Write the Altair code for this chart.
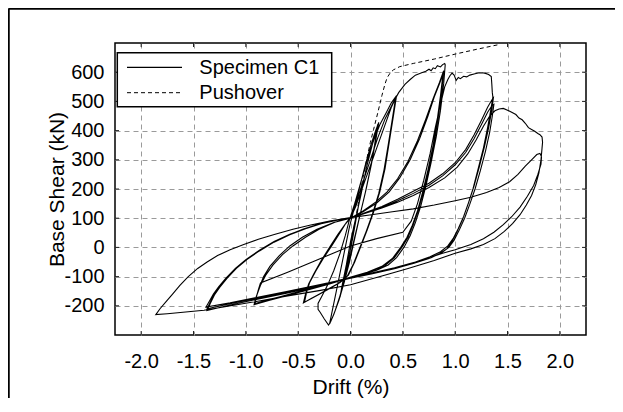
import altair as alt
import pandas as pd

# ---------------- data ----------------
SPEC_X = [
    0.00, 0.04, 0.08, 0.12, 0.10, 0.06, 0.02, -0.02, -0.06, -0.10, -0.08, -0.04, 0.00, 0.05, 0.10, 0.15, 0.20, 0.24, 0.26,
    0.23, 0.19, 0.14, 0.09, 0.04, -0.01, -0.06, -0.11, -0.16, -0.20, -0.17, -0.13, -0.09, -0.05, -0.01, 0.04, 0.09, 0.14, 0.19, 0.24, 0.27,
    0.24, 0.20, 0.15, 0.10, 0.05, 0.00, -0.05, -0.10, -0.15, -0.19, -0.21, -0.25, -0.29, -0.31, -0.31,
    -0.27, -0.22, -0.16, -0.10, -0.05, -0.01, 0.04, 0.10, 0.16, 0.22, 0.28, 0.34, 0.39, 0.44,
    0.41, 0.37, 0.33, 0.28, 0.22, 0.16, 0.10, 0.04, -0.02, -0.10, -0.20, -0.30, -0.38, -0.45,
    -0.43, -0.40, -0.35, -0.28, -0.20, -0.12, -0.05, 0.00, 0.05, 0.10, 0.16, 0.22, 0.28, 0.34, 0.39, 0.43,
    0.40, 0.36, 0.32, 0.27, 0.21, 0.15, 0.09, 0.03, -0.03, -0.12, -0.22, -0.32, -0.40, -0.44,
    -0.42, -0.39, -0.33, -0.26, -0.18, -0.10, -0.04, 0.00,
    0.06, 0.12, 0.19, 0.26, 0.33, 0.40, 0.46, 0.52, 0.57, 0.62, 0.68, 0.72, 0.75, 0.77, 0.79, 0.81, 0.83, 0.86, 0.88, 0.90, 0.905,
    0.89, 0.86, 0.82, 0.77, 0.72, 0.67, 0.62, 0.57, 0.51, 0.44, 0.36, 0.25, 0.12, 0.00, -0.20, -0.40, -0.60, -0.78, -0.92,
    -0.90, -0.87, -0.83, -0.77, -0.68, -0.58, -0.46, -0.32, -0.16, 0.00,
    0.12, 0.24, 0.35, 0.45, 0.55, 0.64, 0.72, 0.79, 0.85, 0.88, 0.89,
    0.87, 0.84, 0.80, 0.75, 0.70, 0.65, 0.60, 0.55, 0.49, 0.42, 0.33, 0.20, 0.05, -0.10, -0.30, -0.50, -0.70, -0.85, -0.92,
    -0.90, -0.86, -0.81, -0.74, -0.65, -0.55, -0.43, -0.30, -0.15, 0.00,
    0.12, 0.25, 0.37, 0.47, 0.57, 0.66, 0.74, 0.80, 0.85, 0.88, 0.885,
    0.86, 0.83, 0.79, 0.74, 0.69, 0.64, 0.59, 0.54, 0.48, 0.40, 0.30, 0.16, 0.02, -0.15, -0.35, -0.55, -0.75, -0.91,
    -0.90, -0.88, -0.86, -0.60, -0.40, -0.20, 0.00, 0.25, 0.50,
    0.58, 0.64, 0.70, 0.76, 0.81, 0.86, 0.90, 0.93, 0.95,
    0.97, 0.99, 1.01, 1.03, 1.05, 1.08, 1.11, 1.14, 1.18, 1.22, 1.26, 1.29, 1.32, 1.345, 1.35, 1.355, 1.36,
    1.34, 1.31, 1.27, 1.22, 1.17, 1.12, 1.07, 1.02, 0.97, 0.92, 0.85, 0.75, 0.60, 0.40, 0.20, 0.00, -0.30, -0.60, -0.90, -1.15, -1.38,
    -1.35, -1.31, -1.26, -1.19, -1.10, -1.00, -0.88, -0.74, -0.60, -0.45, -0.30, -0.15, 0.00,
    0.15, 0.30, 0.45, 0.60, 0.75, 0.88, 1.00, 1.10, 1.18, 1.25, 1.31, 1.35, 1.365,
    1.35, 1.32, 1.28, 1.23, 1.18, 1.13, 1.08, 1.03, 0.98, 0.93, 0.86, 0.76, 0.62, 0.42, 0.20, -0.02, -0.30, -0.60, -0.90, -1.15, -1.37,
    -1.34, -1.30, -1.25, -1.18, -1.09, -0.99, -0.87, -0.73, -0.58, -0.43, -0.28, -0.14, 0.00,
    0.15, 0.30, 0.45, 0.60, 0.75, 0.88, 1.00, 1.10, 1.18, 1.25, 1.31, 1.35, 1.37,
    1.355, 1.33, 1.29, 1.24, 1.19, 1.14, 1.09, 1.04, 0.99, 0.94, 0.87, 0.77, 0.63, 0.43, 0.21, -0.01, -0.30, -0.60, -0.90, -1.15, -1.37,
    -1.34, -1.30, -1.25, -1.18, -1.09, -0.99, -0.87, -0.73, -0.58, -0.43, -0.28, -0.14, 0.00,
    0.15, 0.30, 0.45, 0.60, 0.75, 0.90, 1.02, 1.12, 1.20, 1.27, 1.33, 1.38, 1.42, 1.46, 1.50, 1.54, 1.58, 1.61, 1.64, 1.67,
    1.70, 1.73, 1.76, 1.79, 1.81, 1.83, 1.835, 1.83,
    1.82, 1.80, 1.77, 1.73, 1.68, 1.62, 1.55, 1.47, 1.38, 1.27, 1.15, 1.00, 0.80, 0.55, 0.30, 0.00, -0.30, -0.60, -0.90, -1.20,
    -1.40, -1.60, -1.75, -1.86,
    -1.82, -1.76, -1.70, -1.63, -1.55, -1.46, -1.37, -1.27, -1.15, -1.02, -0.88, -0.72, -0.55, -0.38, -0.20, 0.00,
    0.20, 0.40, 0.60, 0.80, 1.00, 1.15, 1.30, 1.42, 1.52, 1.60, 1.67, 1.73, 1.78, 1.81,
    1.825, 1.82, 1.79, 1.75, 1.69, 1.62, 1.54, 1.46, 1.37, 1.27, 1.15, 1.00, 0.88, 0.78,
]
SPEC_Y = [
    0, 70, 150, 230, 190, 110, 30, -40, -110, -170, -130, -60, 20, 100, 180, 270, 340, 395, 420,
    350, 270, 185, 110, 30, -50, -120, -180, -230, -262, -210, -140, -70, 0, 70, 140, 210, 280, 345, 400, 428,
    365, 285, 200, 125, 50, -25, -95, -165, -220, -255, -266, -245, -222, -212, -192,
    -165, -130, -80, -20, 40, 95, 150, 225, 300, 365, 420, 460, 495, 520,
    450, 360, 270, 190, 120, 60, 5, -50, -95, -120, -140, -160, -176, -190,
    -160, -125, -90, -45, 0, 45, 80, 100, 140, 190, 250, 310, 370, 430, 480, 510,
    440, 350, 265, 185, 115, 55, 0, -55, -98, -125, -145, -165, -180, -188,
    -155, -120, -80, -38, 5, 50, 85, 102,
    160, 225, 300, 375, 440, 490, 530, 558, 575, 590, 598, 603, 610, 605, 615, 612, 622, 618, 626, 630, 625,
    560, 470, 380, 290, 210, 140, 85, 40, 0, -35, -60, -78, -92, -103, -125, -145, -165, -182, -196,
    -170, -135, -100, -65, -28, 5, 35, 62, 85, 100,
    125, 155, 190, 235, 295, 365, 440, 510, 565, 595, 605,
    530, 450, 360, 270, 195, 130, 78, 35, 0, -35, -62, -82, -97, -112, -133, -152, -172, -186, -194,
    -168, -130, -95, -60, -25, 5, 35, 62, 86, 100,
    122, 152, 190, 238, 300, 372, 450, 515, 560, 590, 598,
    520, 440, 350, 265, 190, 125, 75, 35, 0, -38, -65, -85, -100, -118, -138, -158, -176, -192,
    -170, -145, -122, -85, -55, -25, 5, 30, 52,
    90, 150, 230, 320, 410, 490, 550, 575, 588,
    597, 590, 572, 582, 578, 586, 584, 590, 594, 597, 598, 596, 592, 585, 560, 530, 515,
    470, 410, 340, 270, 200, 145, 95, 55, 20, -5, -22, -38, -55, -75, -90, -105, -128, -150, -172, -190, -204,
    -185, -160, -135, -105, -72, -42, -12, 18, 42, 63, 80, 92, 100,
    120, 140, 165, 192, 220, 252, 290, 335, 385, 435, 480, 505, 512,
    470, 410, 345, 275, 210, 155, 105, 65, 30, 5, -15, -32, -50, -70, -88, -105, -130, -153, -175, -193, -210,
    -188, -160, -135, -104, -70, -40, -10, 20, 45, 65, 82, 93, 101,
    118, 137, 160, 185, 213, 245, 283, 325, 372, 420, 463, 485, 490,
    450, 395, 330, 262, 200, 148, 100, 60, 25, 0, -18, -35, -52, -72, -90, -106, -132, -156, -178, -197, -216,
    -192, -163, -137, -106, -72, -42, -12, 18, 43, 64, 81, 92, 100,
    118, 135, 155, 178, 205, 238, 275, 320, 368, 415, 450, 468, 474, 476, 470, 463, 455, 443, 437, 425,
    410, 404, 398, 390, 386, 378, 360, 340,
    300, 255, 215, 178, 145, 112, 82, 55, 30, 10, -5, -20, -45, -72, -98, -128, -148, -166, -185, -203,
    -215, -222, -227, -230,
    -210, -185, -160, -130, -100, -72, -50, -28, -8, 10, 28, 45, 62, 77, 90, 102,
    112, 122, 132, 145, 160, 172, 188, 205, 225, 250, 278, 300, 318, 322,
    310, 285, 250, 212, 175, 138, 105, 78, 52, 30, 10, -8, -20, -32,
]
PUSH_X = [0.00, 0.04, 0.08, 0.12, 0.16, 0.19, 0.22, 0.26, 0.30, 0.33, 0.35, 0.38, 0.41, 0.47, 0.60, 0.80, 1.00, 1.20, 1.41]
PUSH_Y = [0, 80, 160, 240, 310, 360, 403, 460, 520, 560, 581, 598, 608, 619, 630, 645, 662, 678, 694]

X_TICKS = [-2.0, -1.5, -1.0, -0.5, 0.0, 0.5, 1.0, 1.5, 2.0]
Y_TICKS = [-200, -100, 0, 100, 200, 300, 400, 500, 600]
X_DOMAIN = [-2.25, 2.25]
Y_DOMAIN = [-300, 700]
LEGEND_LABELS = ["Specimen C1", "Pushover"]
X_TITLE = "Drift (%)"
Y_TITLE = "Base Shear (kN)"

# ---------------- layout / style ----------------
W, H = 471, 292
FONT = "Liberation Sans"

xscale = alt.Scale(domain=X_DOMAIN, nice=False, zero=False)
yscale = alt.Scale(domain=Y_DOMAIN, nice=False, zero=False)

spec = pd.DataFrame({"drift": SPEC_X, "shear": SPEC_Y, "i": list(range(len(SPEC_X)))})
push = pd.DataFrame({"drift": PUSH_X, "shear": PUSH_Y, "i": list(range(len(PUSH_X)))})
xt = pd.DataFrame({"drift": X_TICKS})
yt = pd.DataFrame({"shear": Y_TICKS})
one = pd.DataFrame({"label": LEGEND_LABELS})

x_axis = alt.Axis(
    values=X_TICKS, title=X_TITLE, grid=True,
    labelExpr="datum.value < 0 ? '-' + format(-datum.value, '.1f') : format(datum.value, '.1f')",
    labelPadding=16, titleY=58, titleBaseline="alphabetic",
)
y_axis = alt.Axis(
    values=Y_TICKS, title=Y_TITLE, grid=True,
    labelExpr="datum.value < 0 ? '-' + format(-datum.value, 'd') : format(datum.value, 'd')",
    labelPadding=11, titleX=-52, titleY=146, titleAngle=270,
    titleBaseline="alphabetic", titleAlign="center",
)
X = alt.X("drift:Q", scale=xscale, axis=x_axis)
Y = alt.Y("shear:Q", scale=yscale, axis=y_axis)

spec_line = alt.Chart(spec).mark_line(color="black", strokeWidth=1.1).encode(
    x=X, y=Y, order=alt.Order("i:Q"),
)
push_line = alt.Chart(push).mark_line(color="black", strokeWidth=1, strokeDash=[4, 3]).encode(
    x=X, y=Y, order=alt.Order("i:Q"),
)

tick_style = dict(color="#222", strokeWidth=1)
xt_bot = alt.Chart(xt).mark_rule(**tick_style).encode(x=X, y=alt.value(H - 4), y2=alt.value(H))
xt_top = alt.Chart(xt).mark_rule(**tick_style).encode(x=X, y=alt.value(0), y2=alt.value(4))
yt_left = alt.Chart(yt).mark_rule(**tick_style).encode(y=Y, x=alt.value(0), x2=alt.value(4))
yt_right = alt.Chart(yt).mark_rule(**tick_style).encode(y=Y, x=alt.value(W - 4), x2=alt.value(W))

# outer figure frame (top and left edges visible in the reference)
frame_top = alt.Chart(one.head(1)).mark_rule(color="black", strokeWidth=2.5).encode(
    x=alt.value(-106.5), x2=alt.value(500), y=alt.value(-34.5))
frame_left = alt.Chart(one.head(1)).mark_rule(color="black", strokeWidth=2.5).encode(
    x=alt.value(-106.5), y=alt.value(-34.5), y2=alt.value(360))

# legend box
leg_box = alt.Chart(one.head(1)).mark_rect(fill="white", stroke="black", strokeWidth=1.5).encode(
    x=alt.value(2.3), x2=alt.value(216.7), y=alt.value(9.7), y2=alt.value(63.7))
leg_l1 = alt.Chart(one.head(1)).mark_rule(color="black", strokeWidth=1.3).encode(
    x=alt.value(12), x2=alt.value(67), y=alt.value(24.3))
leg_l2 = alt.Chart(one.head(1)).mark_rule(color="black", strokeWidth=1, strokeDash=[4, 3]).encode(
    x=alt.value(12), x2=alt.value(67), y=alt.value(49.7))
txt = dict(align="left", baseline="alphabetic", font=FONT, fontSize=20, color="black")
leg_t1 = alt.Chart(one).transform_filter(alt.datum.label == LEGEND_LABELS[0]).mark_text(**txt).encode(
    x=alt.value(84.3), y=alt.value(31), text="label:N")
leg_t2 = alt.Chart(one).transform_filter(alt.datum.label == LEGEND_LABELS[1]).mark_text(**txt).encode(
    x=alt.value(84.3), y=alt.value(56.4), text="label:N")

chart = alt.layer(
    spec_line, push_line, xt_bot, xt_top, yt_left, yt_right,
    frame_top, frame_left, leg_box, leg_l1, leg_l2, leg_t1, leg_t2,
).properties(
    width=W, height=H, autosize="none",
    padding={"left": 107, "top": 35, "right": 29, "bottom": 63},
    background="white",
).configure_view(
    stroke="black", strokeWidth=1.5,
).configure_axis(
    labelFont=FONT, labelFontSize=20, labelColor="black",
    titleFont=FONT, titleFontSize=21, titleFontWeight="normal", titleColor="black",
    domain=False, ticks=False,
    gridColor="#9a9a9a", gridDash=[5, 4], gridWidth=1,
)

chart.save("out.html", embed_options={"renderer": "svg", "actions": False})
